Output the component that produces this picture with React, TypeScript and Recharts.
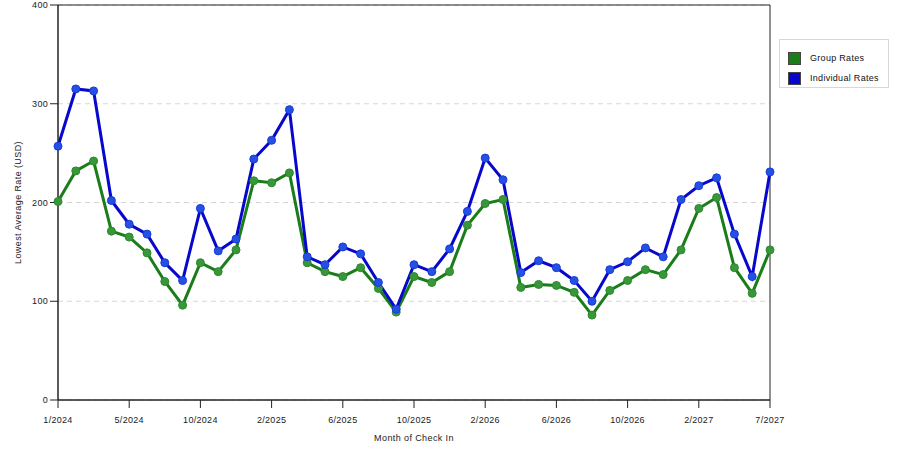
import React from "react";
import {
  LineChart,
  Line,
  CartesianGrid,
  XAxis,
  YAxis,
  Legend,
  ReferenceArea,
} from "recharts";

const months = [
  "1/2024", "2/2024", "3/2024", "4/2024", "5/2024", "6/2024", "7/2024", "8/2024",
  "10/2024", "11/2024", "12/2024", "1/2025", "2/2025", "3/2025", "4/2025", "5/2025",
  "6/2025", "7/2025", "8/2025", "9/2025", "10/2025", "11/2025", "12/2025", "1/2026",
  "2/2026", "3/2026", "4/2026", "5/2026", "6/2026", "7/2026", "8/2026", "9/2026",
  "10/2026", "11/2026", "12/2026", "1/2027", "2/2027", "3/2027", "4/2027", "5/2027",
  "7/2027",
];

const groupRates = [
  201, 232, 242, 171, 165, 149, 120, 96, 139, 130, 152, 222, 220, 230, 139, 130,
  125, 134, 113, 89, 125, 119, 130, 177, 199, 203, 114, 117, 116, 109, 86, 111,
  121, 132, 127, 152, 194, 205, 134, 108, 152,
];

const individualRates = [
  257, 315, 313, 202, 178, 168, 139, 121, 194, 151, 163, 244, 263, 294, 145, 137,
  155, 148, 119, 92, 137, 130, 153, 191, 245, 223, 129, 141, 134, 121, 100, 132,
  140, 154, 145, 203, 217, 225, 168, 125, 231,
];

const yTicks = [0, 100, 200, 300, 400];

const seriesInfo = [
  { name: "Group Rates", color: "#1a7d1a" },
  { name: "Individual Rates", color: "#0808cc" },
];

const data = months.map((month, i) => ({
  month,
  group: groupRates[i],
  individual: individualRates[i],
}));

const font = "'Liberation Sans', Arial, sans-serif";

function LegendBox() {
  return (
    <div
      style={{
        width: 110,
        height: 49,
        boxSizing: "border-box",
        border: "1px solid #d8d8d8",
        background: "#fff",
        fontFamily: font,
        fontSize: 9,
        letterSpacing: 0.3,
        color: "#111",
        padding: "8px 0 0 8px",
      }}
    >
      {seriesInfo.map((s) => (
        <div
          key={s.name}
          style={{ display: "flex", alignItems: "center", height: 20 }}
        >
          <span
            style={{
              display: "inline-block",
              width: 13,
              height: 13,
              background: s.color,
              border: "1px solid #444",
              boxSizing: "border-box",
              marginRight: 9,
            }}
          />
          {s.name}
        </div>
      ))}
    </div>
  );
}

export default function App() {
  const tickStyle = { fontSize: 9, fill: "#1a1a1a", fontFamily: font, letterSpacing: 0.3 };
  return (
    <div style={{ position: "absolute", left: 0, top: 0, width: 900, height: 450, background: "#fff" }}>
      <LineChart
        width={900}
        height={450}
        data={data}
        margin={{ top: 5, right: 20, left: 0, bottom: 0 }}
      >
        <CartesianGrid
          vertical={false}
          stroke="#d6d6d6"
          strokeDasharray="5 4"
        />
        <XAxis
          dataKey="month"
          interval={3}
          height={50}
          tick={tickStyle}
          tickSize={8}
          tickMargin={9}
          stroke="#222"
          label={{
            value: "Month of Check In",
            position: "insideBottom",
            offset: 9,
            style: { fontSize: 9, fill: "#1a1a1a", fontFamily: font, letterSpacing: 0.4 },
          }}
        />
        <YAxis
          domain={[0, 400]}
          ticks={yTicks}
          interval={0}
          width={58}
          tick={tickStyle}
          tickSize={8}
          tickMargin={2}
          stroke="#222"
          label={{
            value: "Lowest Average Rate (USD)",
            angle: -90,
            position: "center",
            dx: -11,
            style: { fontSize: 9, fill: "#1a1a1a", fontFamily: font, textAnchor: "middle", letterSpacing: 0.4 },
          }}
        />
        <ReferenceArea
          x1={months[0]}
          x2={months[months.length - 1]}
          y1={0}
          y2={400}
          fill="none"
          stroke="#222"
          strokeWidth={1}
          ifOverflow="visible"
        />
        <Legend
          layout="vertical"
          verticalAlign="top"
          align="right"
          content={() => <LegendBox />}
          wrapperStyle={{ top: 39, left: 779, right: "auto", width: 110 }}
        />
        <Line
          type="linear"
          dataKey="group"
          name="Group Rates"
          stroke={seriesInfo[0].color}
          strokeWidth={3}
          dot={{ r: 4, fill: "#3a963a", stroke: "#2b8a2b", strokeWidth: 1, fillOpacity: 1 }}
          isAnimationActive={false}
        />
        <Line
          type="linear"
          dataKey="individual"
          name="Individual Rates"
          stroke={seriesInfo[1].color}
          strokeWidth={3}
          dot={{ r: 4, fill: "#2450e4", stroke: "#1a3ad8", strokeWidth: 1, fillOpacity: 1 }}
          isAnimationActive={false}
        />
      </LineChart>
    </div>
  );
}
